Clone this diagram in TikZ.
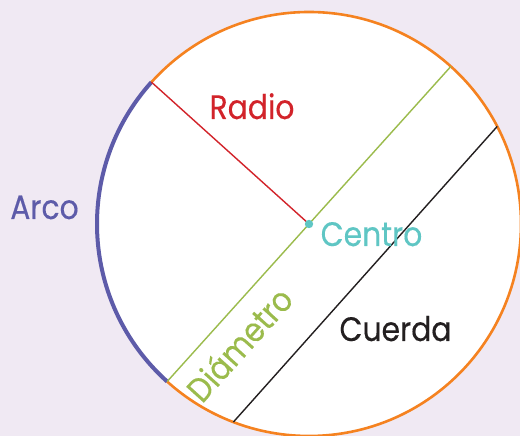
\documentclass[tikz,border=0pt]{standalone}
\usepackage{fontspec}
\setmainfont{Poppins}[FakeStretch=0.88, FakeBold=0.3]
\usetikzlibrary{calc}
\definecolor{bgcol}{RGB}{240,233,243}
\definecolor{orangecol}{RGB}{245,130,32}
\definecolor{redcol}{RGB}{210,35,42}
\definecolor{greencol}{RGB}{155,187,76}
\definecolor{tealcol}{RGB}{95,198,196}
\definecolor{bluecol}{RGB}{93,91,169}
\definecolor{darkcol}{RGB}{35,31,32}
\tikzset{
  lbl/.style={inner sep=0pt, anchor=base, font=\fontsize{34}{34}\selectfont},
  segline/.style={line width=1.4bp},
}
\begin{document}
\begin{tikzpicture}[x=1bp,y=1bp]
\useasboundingbox (0,0) rectangle (520,436);
\fill[bgcol] (0,0) rectangle (520,436);
\begin{scope}
\clip (0,0) rectangle (520,436);
\coordinate (O) at (309,212);
\def\R{212}
\fill[white] (O) circle (\R);
\draw[orangecol, line width=2.6bp] (O) circle (\R);
\draw[bluecol, line width=4bp] ($(O)+(138:\R)$) arc (138:228:\R);
\coordinate (D1) at ($(O)+(48:\R)$);
\coordinate (D2) at ($(O)+(228:\R)$);
\coordinate (Rend) at ($(O)+(138:\R)$);
\coordinate (C1) at ($(O)+(27.4:\R)$);
\coordinate (C2) at ($(O)+(249.1:\R)$);
\draw[redcol, segline] (O) -- (Rend);
\draw[greencol, segline] (D2) -- (D1);
\draw[darkcol, segline] (C2) -- (C1);
\fill[tealcol] (O) circle (4.2);
\end{scope}
\node[lbl, text=redcol] (radio) at (252,317) {Radio};
\node[lbl, text=bluecol] (arco) at (44.5,217) {Arco};
\node[lbl, text=tealcol] (centro) at (371.5,190) {Centro};
\node[lbl, text=darkcol] (cuerda) at (395.5,95) {Cuerda};
\node[lbl, text=greencol, anchor=center, rotate=48] (diam) at (239,92) {Diámetro};
\end{tikzpicture}
\end{document}
